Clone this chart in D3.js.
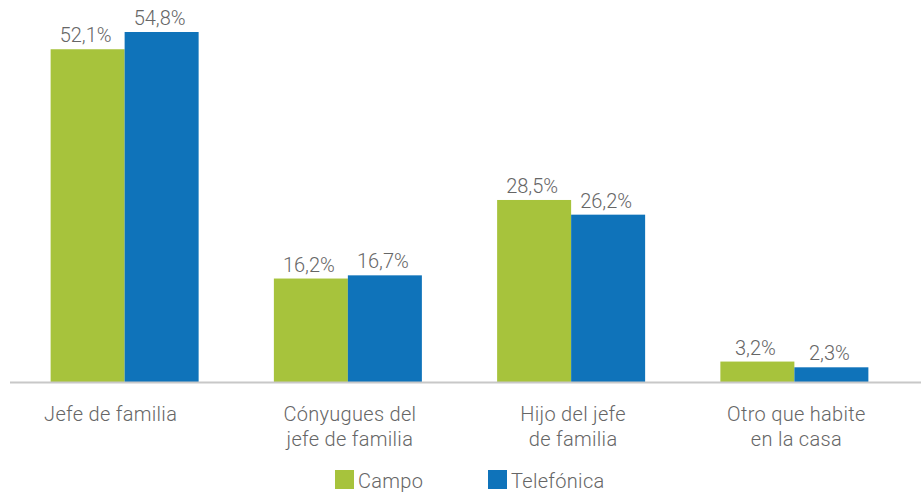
<!DOCTYPE html>
<html>
<head>
<meta charset="utf-8">
<script src="https://cdn.jsdelivr.net/npm/d3@7"></script>
<style>
  body { margin: 0; background: #fff; }
  text { font-family: Roboto, "Noto Sans", sans-serif; fill: #666; font-weight: 300; }
</style>
</head>
<body>
<script>
// data
var categories = [
    ["Jefe de familia"],
    ["Cónyugues del", "jefe de familia"],
    ["Hijo del jefe", "de familia"],
    ["Otro que habite", "en la casa"]
];
var seriesNames = ["Campo", "Telefónica"];
var campo = [52.1, 16.2, 28.5, 3.2];
var telefonica = [54.8, 16.7, 26.2, 2.3];
var colors = ["#a7c33c", "#0f73ba"];

var w = 921, h = 492;
var svg = d3.select("body").append("svg")
    .attr("width", w)
    .attr("height", h);

var keys = categories.map(function(d){ return d.join(" "); });

//group scale
var x0 = d3.scaleBand()
    .domain(keys)
    .range([13, 906])
    .padding(0);

//bars inside a group
var x1 = d3.scaleBand()
    .domain(seriesNames)
    .range([0, 148]);

var y = d3.scaleLinear()
    .domain([0, 54.8])
    .range([382, 32]);

var rows = keys.map(function(k, i){
    return { key: k, lines: categories[i], values: [campo[i], telefonica[i]] };
});

var groups = svg.selectAll(".group")
    .data(rows)
    .enter()
    .append("g")
    .attr("class", "group")
    .attr("transform", function(d){
        return "translate(" + (x0(d.key) + x0.bandwidth() / 2 - 74) + ",0)";
    });

groups.selectAll("rect")
    .data(function(d){
        return d.values.map(function(v, j){ return { s: seriesNames[j], v: v, j: j }; });
    })
    .enter()
    .append("rect")
    .attr("x", function(d){ return x1(d.s); })
    .attr("y", function(d){ return y(d.v); })
    .attr("width", x1.bandwidth())
    .attr("height", function(d){ return y(0) - y(d.v); })
    .style("fill", function(d){ return colors[d.j]; });

//value labels
groups.selectAll(".val")
    .data(function(d){
        return d.values.map(function(v, j){ return { s: seriesNames[j], v: v }; });
    })
    .enter()
    .append("text")
    .attr("class", "val")
    .attr("text-anchor", "middle")
    .attr("x", function(d){ return x1(d.s) + x1.bandwidth() / 2 - 2; })
    .attr("y", function(d){ return y(d.v) - 7; })
    .style("font-size", "20px")
    .text(function(d){ return d3.format(".1f")(d.v).replace(".", ",") + "%"; });

//baseline
svg.append("line")
    .attr("x1", 10)
    .attr("x2", w)
    .attr("y1", y(0) + 0.5)
    .attr("y2", y(0) + 0.5)
    .style("stroke", "#c8c8c8")
    .style("stroke-width", 2);

//category labels
var labels = svg.selectAll(".cat")
    .data(rows)
    .enter()
    .append("text")
    .attr("class", "cat")
    .attr("text-anchor", "middle")
    .attr("y", 421)
    .style("font-size", "20px")
    .style("letter-spacing", "0.3px");

labels.selectAll("tspan")
    .data(function(d, i){
        var cx = x0(d.key) + x0.bandwidth() / 2 + (i === 0 ? -14 : 2);
        return d.lines.map(function(t){ return { t: t, cx: cx }; });
    })
    .enter()
    .append("tspan")
    .attr("x", function(d){ return d.cx; })
    .attr("dy", function(d, i){ return i === 0 ? 0 : 25; })
    .text(function(d){ return d.t; });

//legend
var legend = svg.selectAll(".legend")
    .data(seriesNames)
    .enter()
    .append("g")
    .attr("class", "legend")
    .attr("transform", function(d, i){ return "translate(" + (335 + i * 153) + ",470)"; });

legend.append("rect")
    .attr("width", 19)
    .attr("height", 19)
    .style("fill", function(d, i){ return colors[i]; });

legend.append("text")
    .attr("x", 23)
    .attr("y", 18)
    .style("font-size", "20px")
    .style("letter-spacing", "0.3px")
    .text(function(d){ return d; });
</script>
</body>
</html>
